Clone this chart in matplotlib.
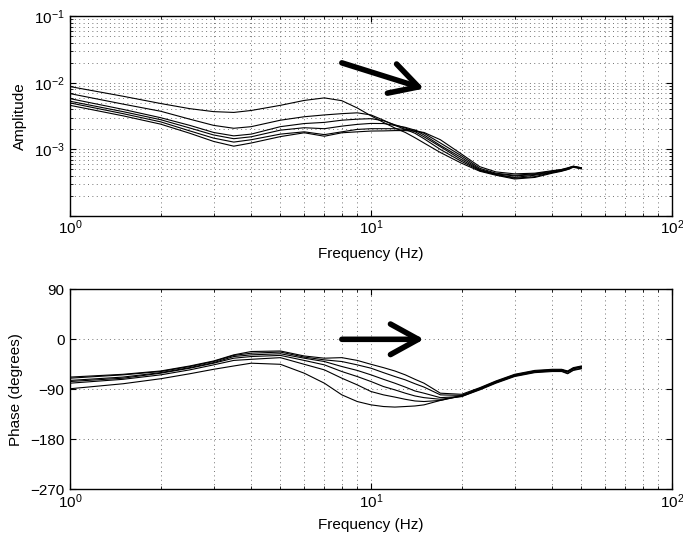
"""
Bode-style plot: amplitude and phase of six measured responses,
with arrows showing the shift of the resonance towards higher frequency.
"""
import matplotlib
matplotlib.use("Agg")
import matplotlib.pyplot as plt
from matplotlib.ticker import LogLocator, NullFormatter, FixedLocator

plt.rcParams["font.family"] = ["Liberation Sans", "DejaVu Sans"]
plt.rcParams["font.size"] = 11
plt.rcParams["mathtext.default"] = "regular"

# frequency grid (Hz)
freq = [1, 1.5, 2, 2.5, 3, 3.5, 4, 5, 6, 7, 8, 9, 10, 11, 12, 13, 14, 15,
        17, 20, 23, 26, 30, 35, 40, 43, 45, 47, 50]

# amplitude of each response, in units of 1e-3
amp_a = [8.8, 6.3, 4.9, 4.1, 3.7, 3.6, 3.85, 4.6, 5.45, 5.95, 5.4, 4.2, 3.2,
         2.55, 2.1, 1.8, 1.5, 1.25, 0.9, 0.62, 0.47, 0.41, 0.36, 0.38, 0.44,
         0.47, 0.5, 0.54, 0.51]
amp_b = [6.9, 4.8, 3.75, 2.85, 2.3, 2.08, 2.2, 2.75, 3.1, 3.3, 3.45, 3.55, 3.3,
         2.75, 2.3, 2.0, 1.75, 1.45, 1.0, 0.66, 0.48, 0.42, 0.37, 0.39, 0.45,
         0.48, 0.5, 0.55, 0.52]
amp_c = [5.8, 4.0, 3.0, 2.3, 1.8, 1.6, 1.7, 2.2, 2.45, 2.55, 2.75, 2.85, 2.9,
         2.7, 2.35, 2.1, 1.85, 1.55, 1.1, 0.7, 0.49, 0.42, 0.38, 0.41, 0.45,
         0.48, 0.51, 0.55, 0.52]
amp_d = [5.3, 3.7, 2.8, 2.1, 1.65, 1.45, 1.55, 1.95, 2.12, 2.05, 2.24, 2.38,
         2.46, 2.45, 2.3, 2.15, 1.95, 1.65, 1.15, 0.75, 0.5, 0.43, 0.4, 0.42,
         0.46, 0.49, 0.52, 0.55, 0.52]
amp_e = [5.0, 3.45, 2.6, 1.9, 1.48, 1.29, 1.4, 1.7, 1.84, 1.67, 1.84, 2.0,
         2.05, 2.05, 2.05, 2.0, 1.95, 1.75, 1.25, 0.8, 0.52, 0.44, 0.41, 0.43,
         0.47, 0.5, 0.52, 0.56, 0.53]
amp_f = [4.6, 3.2, 2.4, 1.75, 1.32, 1.12, 1.25, 1.56, 1.78, 1.58, 1.78, 1.84,
         1.89, 1.9, 1.92, 1.92, 1.88, 1.8, 1.4, 0.85, 0.55, 0.46, 0.43, 0.44,
         0.48, 0.5, 0.53, 0.56, 0.53]

# phase of each response (degrees)
ph_a = [-89, -80, -71, -62, -54, -48, -43, -45, -61, -79, -100, -112, -118,
        -121, -122, -121, -120, -118, -110, -101, -88, -76, -64, -57, -55,
        -55, -58, -52, -49]
ph_b = [-79, -72, -64, -55, -46, -38, -36, -33, -45, -55, -70, -82, -94,
        -100, -104, -108, -111, -112, -110, -102, -89, -77, -65, -58, -56,
        -56, -59, -53, -50]
ph_c = [-76, -70, -61, -52, -43, -34, -31, -29, -38, -46, -58, -67, -76,
        -85, -91, -97, -102, -105, -108, -103, -90, -78, -66, -59, -57,
        -57, -61, -55, -52]
ph_d = [-74, -68, -60, -51, -42, -31, -28, -26, -34, -40, -49, -56, -64,
        -72, -79, -86, -93, -97, -105, -103, -91, -79, -67, -60, -58,
        -58, -62, -56, -53]
ph_e = [-70, -64, -58, -49, -40, -29, -25, -23, -32, -37, -40, -46, -52,
        -60, -67, -73, -80, -86, -100, -101, -89, -77, -65, -58, -56,
        -55, -58, -53, -50]
ph_f = [-68, -63, -57, -48, -39, -28, -22, -21, -30, -34, -33, -38, -45,
        -51, -57, -64, -72, -79, -97, -99, -87, -75, -63, -56, -54,
        -54, -57, -51, -48]

amplitudes = [amp_a, amp_b, amp_c, amp_d, amp_e, amp_f]
phases = [ph_a, ph_b, ph_c, ph_d, ph_e, ph_f]

# arrow end points (frequency, value)
amp_arrow_start = (8, 2.0e-2)
amp_arrow_end = (15, 8.2e-3)
ph_arrow_start = (8, 0)
ph_arrow_end = (15, 0)

phase_ticks = [-270, -180, -90, 0, 90]

GRID = dict(linestyle=(0, (1, 3.5)), color="0.45", lw=0.7)


def style_axes(ax, labelpad):
    """MATLAB-like look: boxed axes, ticks inside, dotted grid."""
    ax.set_xscale("log")
    ax.set_xlim(1, 100)
    ax.tick_params(which="both", direction="in", top=True, right=True,
                   labelsize=11)
    ax.tick_params(axis="y", pad=4)
    ax.tick_params(axis="x", pad=2)
    ax.tick_params(which="major", length=4)
    ax.tick_params(which="minor", length=2)
    for spine in ax.spines.values():
        spine.set_linewidth(1.0)
    ax.set_xlabel("Frequency (Hz)", labelpad=labelpad)


def draw_arrow(ax, start, end):
    ax.annotate("", xy=end, xytext=start,
                arrowprops=dict(arrowstyle="->,head_length=1.0,head_width=0.55",
                                lw=4, color="black", shrinkA=0, shrinkB=0,
                                mutation_scale=20))


fig = plt.figure(figsize=(6.83, 5.33), dpi=100)
ax1 = fig.add_axes([0.1025, 0.5947, 0.8814, 0.3747])
ax2 = fig.add_axes([0.1025, 0.0820, 0.8814, 0.3752])

# amplitude
for amp in amplitudes:
    ax1.plot(freq, [v * 1e-3 for v in amp], color="black", lw=0.8)
style_axes(ax1, 7)
ax1.set_yscale("log")
ax1.set_ylim(1e-4, 1e-1)
ax1.yaxis.set_major_locator(FixedLocator([1e-4, 1e-3, 1e-2, 1e-1]))
ax1.yaxis.set_minor_locator(LogLocator(base=10, subs=range(2, 10)))
ax1.yaxis.set_minor_formatter(NullFormatter())
ax1.set_yticklabels(["", "$10^{-3}$", "$10^{-2}$", "$10^{-1}$"])
ax1.grid(which="both", **GRID)
ax1.set_ylabel("Amplitude")
ax1.yaxis.set_label_coords(-0.071, 0.5)
draw_arrow(ax1, amp_arrow_start, amp_arrow_end)

# phase
for ph in phases:
    ax2.plot(freq, ph, color="black", lw=0.8)
style_axes(ax2, 5)
ax2.set_ylim(-270, 90)
ax2.set_yticks(phase_ticks)
ax2.xaxis.grid(which="both", **GRID)
ax2.yaxis.grid(which="major", **GRID)
ax2.set_ylabel("Phase (degrees)")
ax2.yaxis.set_label_coords(-0.078, 0.5)
draw_arrow(ax2, ph_arrow_start, ph_arrow_end)

fig.savefig("out.png", dpi=100)
